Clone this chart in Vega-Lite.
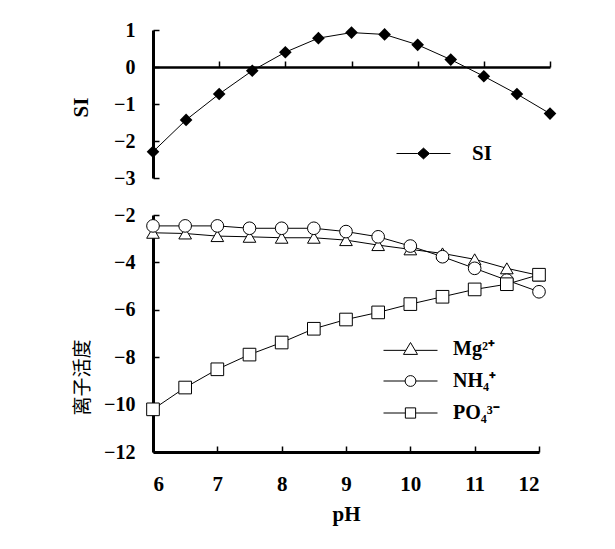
{
  "$schema": "https://vega.github.io/schema/vega-lite/v6.json",
  "padding": {"left": 70, "top": 20, "right": 5, "bottom": 5},
  "bounds": "flush",
  "spacing": 37,
  "resolve": {"scale": {"shape": "independent"}, "legend": {"shape": "independent"}},
  "datasets": {
    "si": [
      {"pH": 6, "SI": -2.29, "series": "SI"},
      {"pH": 6.5, "SI": -1.43, "series": "SI"},
      {"pH": 7, "SI": -0.73, "series": "SI"},
      {"pH": 7.5, "SI": -0.1, "series": "SI"},
      {"pH": 8, "SI": 0.4, "series": "SI"},
      {"pH": 8.5, "SI": 0.78, "series": "SI"},
      {"pH": 9, "SI": 0.93, "series": "SI"},
      {"pH": 9.5, "SI": 0.88, "series": "SI"},
      {"pH": 10, "SI": 0.6, "series": "SI"},
      {"pH": 10.5, "SI": 0.2, "series": "SI"},
      {"pH": 11, "SI": -0.25, "series": "SI"},
      {"pH": 11.5, "SI": -0.73, "series": "SI"},
      {"pH": 12, "SI": -1.26, "series": "SI"}
    ],
    "ions": [
      {"pH": 6, "act": -2.75, "ion": "Mg²⁺"},
      {"pH": 6.5, "act": -2.78, "ion": "Mg²⁺"},
      {"pH": 7, "act": -2.89, "ion": "Mg²⁺"},
      {"pH": 7.5, "act": -2.92, "ion": "Mg²⁺"},
      {"pH": 8, "act": -2.96, "ion": "Mg²⁺"},
      {"pH": 8.5, "act": -2.96, "ion": "Mg²⁺"},
      {"pH": 9, "act": -3.06, "ion": "Mg²⁺"},
      {"pH": 9.5, "act": -3.27, "ion": "Mg²⁺"},
      {"pH": 10, "act": -3.45, "ion": "Mg²⁺"},
      {"pH": 10.5, "act": -3.62, "ion": "Mg²⁺"},
      {"pH": 11, "act": -3.87, "ion": "Mg²⁺"},
      {"pH": 11.5, "act": -4.25, "ion": "Mg²⁺"},
      {"pH": 12, "act": -4.55, "ion": "Mg²⁺"},
      {"pH": 6, "act": -2.46, "ion": "NH₄⁺"},
      {"pH": 6.5, "act": -2.46, "ion": "NH₄⁺"},
      {"pH": 7, "act": -2.46, "ion": "NH₄⁺"},
      {"pH": 7.5, "act": -2.56, "ion": "NH₄⁺"},
      {"pH": 8, "act": -2.56, "ion": "NH₄⁺"},
      {"pH": 8.5, "act": -2.56, "ion": "NH₄⁺"},
      {"pH": 9, "act": -2.7, "ion": "NH₄⁺"},
      {"pH": 9.5, "act": -2.92, "ion": "NH₄⁺"},
      {"pH": 10, "act": -3.31, "ion": "NH₄⁺"},
      {"pH": 10.5, "act": -3.76, "ion": "NH₄⁺"},
      {"pH": 11, "act": -4.25, "ion": "NH₄⁺"},
      {"pH": 11.5, "act": -4.75, "ion": "NH₄⁺"},
      {"pH": 12, "act": -5.24, "ion": "NH₄⁺"},
      {"pH": 6, "act": -10.2, "ion": "PO₄³⁻"},
      {"pH": 6.5, "act": -9.28, "ion": "PO₄³⁻"},
      {"pH": 7, "act": -8.51, "ion": "PO₄³⁻"},
      {"pH": 7.5, "act": -7.89, "ion": "PO₄³⁻"},
      {"pH": 8, "act": -7.38, "ion": "PO₄³⁻"},
      {"pH": 8.5, "act": -6.8, "ion": "PO₄³⁻"},
      {"pH": 9, "act": -6.41, "ion": "PO₄³⁻"},
      {"pH": 9.5, "act": -6.11, "ion": "PO₄³⁻"},
      {"pH": 10, "act": -5.76, "ion": "PO₄³⁻"},
      {"pH": 10.5, "act": -5.45, "ion": "PO₄³⁻"},
      {"pH": 11, "act": -5.14, "ion": "PO₄³⁻"},
      {"pH": 11.5, "act": -4.92, "ion": "PO₄³⁻"},
      {"pH": 12, "act": -4.52, "ion": "PO₄³⁻"}
    ]
  },
  "vconcat": [
    {
      "width": 397,
      "height": 148,
      "data": {"name": "si"},
      "encoding": {
        "x": {
          "field": "pH", "type": "quantitative",
          "scale": {"domain": [6, 12], "nice": false, "zero": false},
          "axis": {"title": null, "labels": false, "offset": -111, "values": [6, 7, 8, 9, 10, 11, 12], "tickSize": -6, "tickWidth": 1.5, "domainWidth": 2.5}
        },
        "y": {
          "field": "SI", "type": "quantitative",
          "scale": {"domain": [-3, 1], "nice": false, "zero": false},
          "axis": {"title": "SI", "values": [-3, -2, -1, 0, 1], "titleFont": "Liberation Serif", "titleFontWeight": "bold", "titleFontSize": 21, "titleX": -72, "titleY": 77, "titleBaseline": "middle", "titleAngle": -90}
        }
      },
      "layer": [
        {"mark": {"type": "line", "color": "black", "strokeWidth": 1}},
        {"mark": {"type": "point", "filled": true, "color": "black", "shape": "diamond", "size": 160, "opacity": 1}},
        {
          "mark": {"type": "point", "filled": true, "fill": "black", "stroke": "black", "strokeWidth": 1, "size": 2916, "opacity": 0},
          "encoding": {
            "shape": {
              "field": "series", "type": "nominal",
              "scale": {"domain": ["SI"], "range": ["M-1,0L-0.22,0M0.22,0L1,0M0,-0.2L0.22,0L0,0.2L-0.22,0Z"]},
              "legend": {
                "orient": "none", "legendX": 243, "legendY": 96, "title": null,
                "symbolSize": 2916, "symbolStrokeWidth": 1, "symbolOpacity": 1,
                "labelFont": "Liberation Serif", "labelFontWeight": "bold", "labelFontSize": 21, "labelColor": "black", "labelOffset": 21
              }
            }
          }
        }
      ]
    },
    {
      "width": 386,
      "height": 237,
      "data": {"name": "ions"},
      "resolve": {"scale": {"shape": "independent"}, "legend": {"shape": "independent"}},
      "encoding": {
        "x": {
          "field": "pH", "type": "quantitative",
          "scale": {"domain": [6, 12], "nice": false, "zero": false},
          "axis": {"title": "pH", "values": [6, 7, 8, 9, 10, 11, 12], "tickSize": -6, "tickWidth": 1.5, "domainWidth": 3, "labelFontSize": 21, "labelPadding": 27, "titlePadding": 9, "titleFont": "Liberation Serif", "titleFontWeight": "bold", "titleFontSize": 21}
        },
        "y": {
          "field": "act", "type": "quantitative",
          "scale": {"domain": [-12, -2], "nice": false, "zero": false},
          "axis": {"title": "离子活度", "values": [-12, -10, -8, -6, -4, -2], "titleFont": "Noto Sans CJK SC", "titleFontWeight": "normal", "titleFontSize": 19, "titleX": -71, "titleY": 162, "titleBaseline": "middle", "titleAngle": -90}
        }
      },
      "layer": [
        {"mark": {"type": "line", "color": "black", "strokeWidth": 1}, "encoding": {"detail": {"field": "ion"}}},
        {
          "mark": {"type": "point", "filled": true, "fill": "white", "stroke": "black", "strokeWidth": 1, "size": 160, "opacity": 1},
          "encoding": {
            "shape": {
              "field": "ion", "type": "nominal", "sort": null,
              "scale": {"domain": ["Mg²⁺", "NH₄⁺", "PO₄³⁻"], "range": ["triangle-up", "circle", "square"]},
              "legend": null
            }
          }
        },
        {
          "mark": {"type": "point", "filled": true, "fill": "white", "stroke": "black", "strokeWidth": 1, "size": 2916, "opacity": 0},
          "encoding": {
            "shape": {
              "field": "ion", "type": "nominal", "sort": null,
              "scale": {"domain": ["Mg²⁺", "NH₄⁺", "PO₄³⁻"], "range": [
                "M-1,0.05L-0.17,0.05M0.17,0.05L1,0.05M0,-0.24L0.26,0.2L-0.26,0.2Z",
                "M-1,0L-0.2,0M0.2,0L1,0M0.2,0C0.2,0.1105,0.1105,0.2,0,0.2C-0.1105,0.2,-0.2,0.1105,-0.2,0C-0.2,-0.1105,-0.1105,-0.2,0,-0.2C0.1105,-0.2,0.2,-0.1105,0.2,0Z",
                "M-1,0L-0.19,0M0.19,0L1,0M-0.19,-0.19L0.19,-0.19L0.19,0.19L-0.19,0.19Z"
              ]},
              "legend": {
                "orient": "none", "legendX": 230, "legendY": 118, "title": null,
                "symbolSize": 2916, "symbolStrokeWidth": 1, "symbolOpacity": 1, "clipHeight": 32,
                "labelFont": "Liberation Serif", "labelFontWeight": "bold", "labelFontSize": 20, "labelColor": "black", "labelOffset": 15, "rowPadding": 0
              }
            }
          }
        }
      ]
    }
  ],
  "config": {
    "view": {"stroke": null},
    "axis": {
      "grid": false,
      "domainColor": "black", "domainWidth": 3, "tickColor": "black", "tickWidth": 1.5, "tickSize": -6,
      "labelFont": "Liberation Serif", "labelFontWeight": "bold", "labelFontSize": 20, "labelColor": "black", "labelPadding": 24,
      "titleColor": "black"
    }
  }
}
